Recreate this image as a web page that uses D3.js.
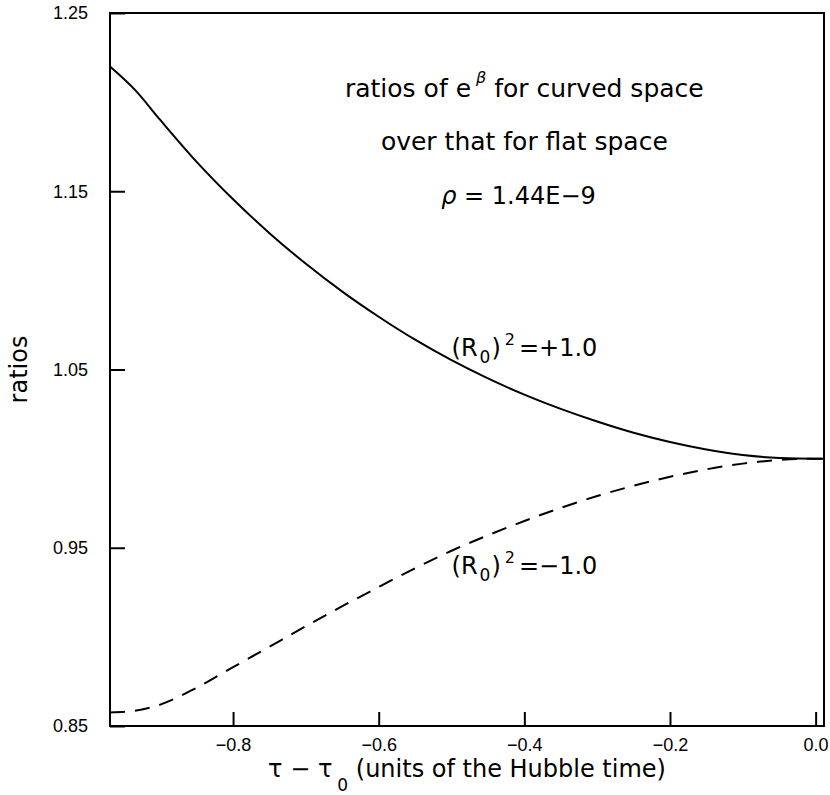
<!DOCTYPE html>
<html>
<head>
<meta charset="utf-8">
<script src="https://cdn.jsdelivr.net/npm/d3@7"></script>
<style>
  body { margin: 0; background: #fff; }
</style>
</head>
<body>
<div id="chart"></div>
<script>
// ratio of e^beta, curved over flat space, vs tau - tau0

// x grid shared by both curves (units of hubble time)
const tau = [-0.969, -0.935, -0.90, -0.85, -0.80, -0.75, -0.70, -0.65, -0.60, -0.55, -0.50,
             -0.45, -0.40, -0.35, -0.30, -0.25, -0.20, -0.15, -0.10, -0.05, 0.0, 0.0115];
// (R0)^2 = +1.0  -> solid
const ratioPlus = [1.220, 1.207, 1.190, 1.1665, 1.1455, 1.1265, 1.1093, 1.0937, 1.0796, 1.0667, 1.0552,
                   1.0450, 1.0359, 1.0279, 1.0208, 1.0145, 1.0093, 1.0051, 1.0020, 1.0004, 1.000, 1.000];
// (R0)^2 = -1.0  -> dashed
const ratioMinus = [0.8576, 0.8585, 0.8620, 0.8715, 0.8830, 0.8945, 0.9060, 0.9172, 0.9280, 0.9385, 0.9483,
                    0.9570, 0.9650, 0.9724, 0.9790, 0.9848, 0.9898, 0.9940, 0.9972, 0.9992, 1.000, 1.000];

const xTicks = [-0.8, -0.6, -0.4, -0.2, 0.0];
const yTicks = [0.85, 0.95, 1.05, 1.15, 1.25];

const width = 830, height = 795;
const margin = {top: 13, right: 6, bottom: 69, left: 110};
const font = "'DejaVu Sans', sans-serif";
const tickFont = "'Liberation Sans', Arial, sans-serif";

const svg = d3.select("#chart")
    .append("svg")
    .attr("width", width)
    .attr("height", height)
    .style("background", "#fff");

const x = d3.scaleLinear()
    .domain([-0.969, 0.0115])
    .range([margin.left, width - margin.right]);

const y = d3.scaleLinear()
    .domain([0.85, 1.25])
    .range([height - margin.bottom, margin.top]);

//ticks point inward, labels outside
svg.append("g")
    .attr("transform", `translate(0,${y(0.85)})`)
    .call(d3.axisBottom(x).tickValues(xTicks).tickFormat(d3.format(".1f"))
        .tickSize(-14).tickSizeOuter(0).tickPadding(12))
    .call(g => g.select(".domain").remove())
    .call(g => g.selectAll("line").attr("stroke", "#000").attr("stroke-width", 2))
    .call(g => g.selectAll("text").attr("fill", "#000"))
    .attr("font-family", tickFont)
    .attr("font-size", 18);

svg.append("g")
    .attr("transform", `translate(${x.range()[0]},0)`)
    .call(d3.axisLeft(y).tickValues(yTicks).tickFormat(d3.format(".2f"))
        .tickSize(-15).tickSizeOuter(0).tickPadding(22))
    .call(g => g.select(".domain").remove())
    .call(g => g.selectAll("line").attr("stroke", "#000").attr("stroke-width", 2))
    .call(g => g.selectAll("text").attr("fill", "#000"))
    .attr("font-family", tickFont)
    .attr("font-size", 18);

// frame
svg.append("rect")
    .attr("x", x.range()[0])
    .attr("y", y.range()[1])
    .attr("width", x.range()[1] - x.range()[0])
    .attr("height", y.range()[0] - y.range()[1])
    .attr("fill", "none")
    .attr("stroke", "#000")
    .attr("stroke-width", 2);

const line = d3.line()
    .x(d => x(d[0]))
    .y(d => y(d[1]))
    .curve(d3.curveMonotoneX);

svg.append("path")
    .datum(d3.zip(tau, ratioPlus))
    .attr("d", line)
    .attr("fill", "none")
    .attr("stroke", "#000")
    .attr("stroke-width", 2);

svg.append("path")
    .datum(d3.zip(tau, ratioMinus))
    .attr("d", line)
    .attr("fill", "none")
    .attr("stroke", "#000")
    .attr("stroke-width", 2)
    .attr("stroke-dasharray", "15,10");

// axis titles
const xTitle = svg.append("text")
    .attr("x", (x.range()[0] + x.range()[1]) / 2)
    .attr("y", 777)
    .attr("text-anchor", "middle")
    .attr("font-family", font)
    .attr("font-size", 24);
xTitle.append("tspan").text("τ − τ");
xTitle.append("tspan").attr("dx", 5).attr("dy", 14).attr("font-size", 17).text("0");
xTitle.append("tspan").attr("dy", -14).text(" (units of the Hubble time)");

svg.append("text")
    .attr("transform", `translate(27,${(y.range()[0] + y.range()[1]) / 2}) rotate(-90)`)
    .attr("text-anchor", "middle")
    .attr("font-family", font)
    .attr("font-size", 24)
    .text("ratios");

//text block top right
const t1 = svg.append("text")
    .attr("x", x(-0.4))
    .attr("y", y(1.2031))
    .attr("text-anchor", "middle")
    .attr("font-family", font)
    .attr("font-size", 25);
t1.append("tspan").text("ratios of e");
t1.append("tspan").attr("dx", 5).attr("dy", -14).attr("font-size", 16).attr("font-style", "italic").text("β");
t1.append("tspan").attr("dy", 14).text(" for curved space");

svg.append("text")
    .attr("x", x(-0.4))
    .attr("y", y(1.1731))
    .attr("text-anchor", "middle")
    .attr("font-family", font)
    .attr("font-size", 25)
    .text("over that for flat space");

const t3 = svg.append("text")
    .attr("x", x(-0.408))
    .attr("y", y(1.1428))
    .attr("text-anchor", "middle")
    .attr("font-family", font)
    .attr("font-size", 24);
t3.append("tspan").attr("font-style", "italic").text("ρ");
t3.append("tspan").text(" = 1.44E−9");

// curve labels
function curveLabel(yv, val) {
    const t = svg.append("text")
        .attr("x", x(-0.5))
        .attr("y", y(yv))
        .attr("font-family", font)
        .attr("font-size", 24);
    t.append("tspan").text("(R");
    t.append("tspan").attr("dx", 2).attr("dy", 7).attr("font-size", 17).text("0");
    t.append("tspan").attr("dx", 1).attr("dy", -7).text(")");
    t.append("tspan").attr("dx", 4).attr("dy", -11).attr("font-size", 16).text("2");
    t.append("tspan").attr("dx", 4).attr("dy", 11).text("=");
    t.append("tspan").attr("dx", 0).text(val);
}
curveLabel(1.0576, "+1.0");
curveLabel(0.9353, "−1.0");
</script>
</body>
</html>
